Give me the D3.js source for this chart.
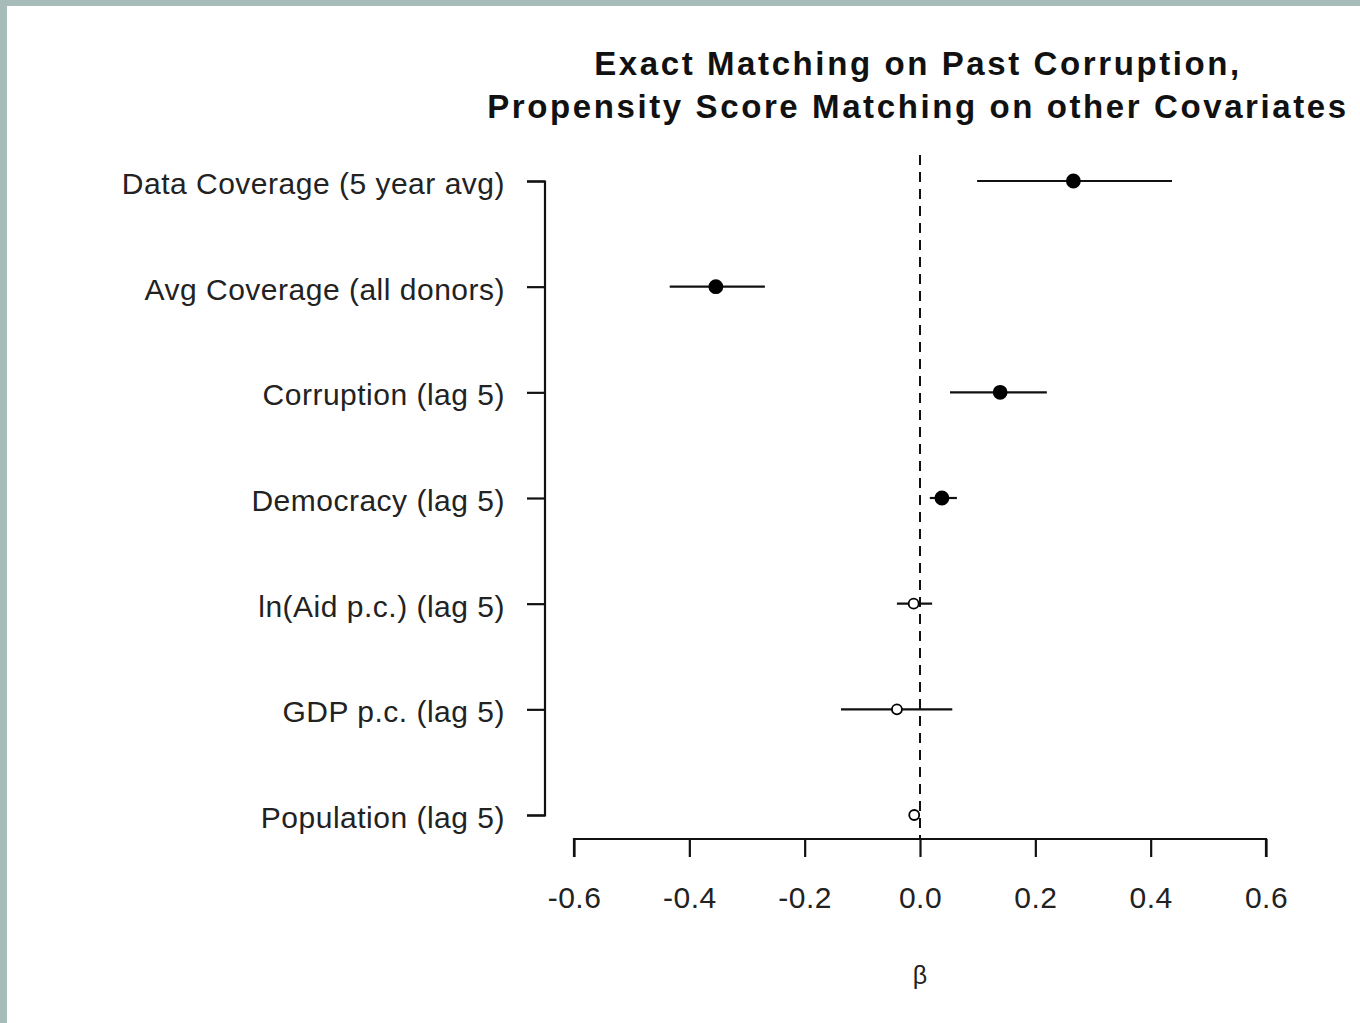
<!DOCTYPE html>
<html>
<head>
<meta charset="utf-8">
<script src="https://cdn.jsdelivr.net/npm/d3@7"></script>
<style>
  html, body { margin: 0; padding: 0; background: #a7bbb9; }
  #frame { position: absolute; left: 7px; top: 6px; width: 1353px; height: 1017px; background: #ffffff; }
  svg { display: block; }
</style>
</head>
<body>
<div id="frame"></div>
<script>
// Coefficient estimates with confidence intervals
const covariates = [
  "Data Coverage (5 year avg)",
  "Avg Coverage (all donors)",
  "Corruption (lag 5)",
  "Democracy (lag 5)",
  "ln(Aid p.c.) (lag 5)",
  "GDP p.c. (lag 5)",
  "Population (lag 5)"
];
const estimates = [0.266, -0.354, 0.139, 0.038, -0.011, -0.040, -0.010];
const lower     = [0.099, -0.434, 0.052, 0.017, -0.040, -0.137, -0.014];
const upper     = [0.437, -0.269, 0.220, 0.064, 0.021, 0.056, -0.006];
const significant = [true, true, true, true, false, false, false];
const xTicks = [-0.6, -0.4, -0.2, 0.0, 0.2, 0.4, 0.6];
const titleLines = [
  "Exact Matching on Past Corruption,",
  "Propensity Score Matching on other Covariates"
];
const xLabel = "\u03B2";

const W = 1353, H = 1017;
const ox = 7, oy = 6; // frame offset within the window

const svg = d3.select("#frame").append("svg")
  .attr("width", W).attr("height", H);

const g = svg.append("g").attr("transform", `translate(${-ox},${-oy})`);

const x = d3.scaleLinear().domain([-0.6, 0.6]).range([574, 1266]);
const y = d3.scalePoint().domain(covariates).range([181, 815]);

const font = "'Liberation Sans', Arial, sans-serif";

// Title
g.selectAll("text.title").data(titleLines).enter().append("text")
  .attr("class", "title")
  .attr("x", 918)
  .attr("y", (d, i) => 75 + i * 43)
  .attr("text-anchor", "middle")
  .attr("font-family", font)
  .attr("font-weight", "bold")
  .attr("font-size", 33)
  .attr("letter-spacing", 2.6)
  .attr("fill", "#111")
  .text(d => d);

// Left axis with covariate names
const yAxis = d3.axisLeft(y).tickSize(18).tickPadding(22);
const ya = g.append("g").attr("transform", "translate(545,0)").call(yAxis);
ya.select(".domain").attr("d", `M-18,181.5H0V815.5H-18`).attr("stroke", "#111").attr("stroke-width", 2.2);
ya.selectAll(".tick line").attr("stroke", "#111").attr("stroke-width", 2.2);
ya.selectAll(".tick text")
  .attr("font-family", font).attr("font-size", 30).attr("letter-spacing", 0.5)
  .attr("dy", "0.42em").attr("fill", "#222");

// Bottom axis
const fmt = d3.format(".1f");
const xAxis = d3.axisBottom(x).tickValues(xTicks).tickSize(18).tickPadding(30)
  .tickFormat(d => fmt(d).replace("\u2212", "-"));
const xa = g.append("g").attr("transform", "translate(0,839)").call(xAxis);
xa.select(".domain").attr("d", `M574,18V0H1266V18`).attr("stroke", "#111").attr("stroke-width", 2.2);
xa.selectAll(".tick line").attr("stroke", "#111").attr("stroke-width", 2.2);
xa.selectAll(".tick text")
  .attr("font-family", font).attr("font-size", 30).attr("letter-spacing", 0.5)
  .attr("fill", "#222");

// x axis label
g.append("text")
  .attr("x", x(0)).attr("y", 984)
  .attr("text-anchor", "middle")
  .attr("font-family", font).attr("font-size", 25).attr("fill", "#222")
  .text(xLabel);

// Zero reference line
g.append("line")
  .attr("x1", x(0)).attr("x2", x(0))
  .attr("y1", 155).attr("y2", 839)
  .attr("stroke", "#111").attr("stroke-width", 2)
  .attr("stroke-dasharray", "10,7");

// Confidence intervals
const rows = covariates.map((c, i) => ({
  name: c, est: estimates[i], lo: lower[i], hi: upper[i], sig: significant[i]
}));

g.selectAll("line.ci").data(rows).enter().append("line")
  .attr("class", "ci")
  .attr("x1", d => x(d.lo)).attr("x2", d => x(d.hi))
  .attr("y1", d => y(d.name)).attr("y2", d => y(d.name))
  .attr("stroke", "#111").attr("stroke-width", 2.2);

// Point estimates: filled when significant, open otherwise
g.selectAll("circle.est").data(rows).enter().append("circle")
  .attr("class", "est")
  .attr("cx", d => x(d.est)).attr("cy", d => y(d.name))
  .attr("r", d => d.sig ? 6.5 : 5)
  .attr("fill", d => d.sig ? "#000" : "#fff")
  .attr("stroke", "#000").attr("stroke-width", 1.8);
</script>
</body>
</html>
